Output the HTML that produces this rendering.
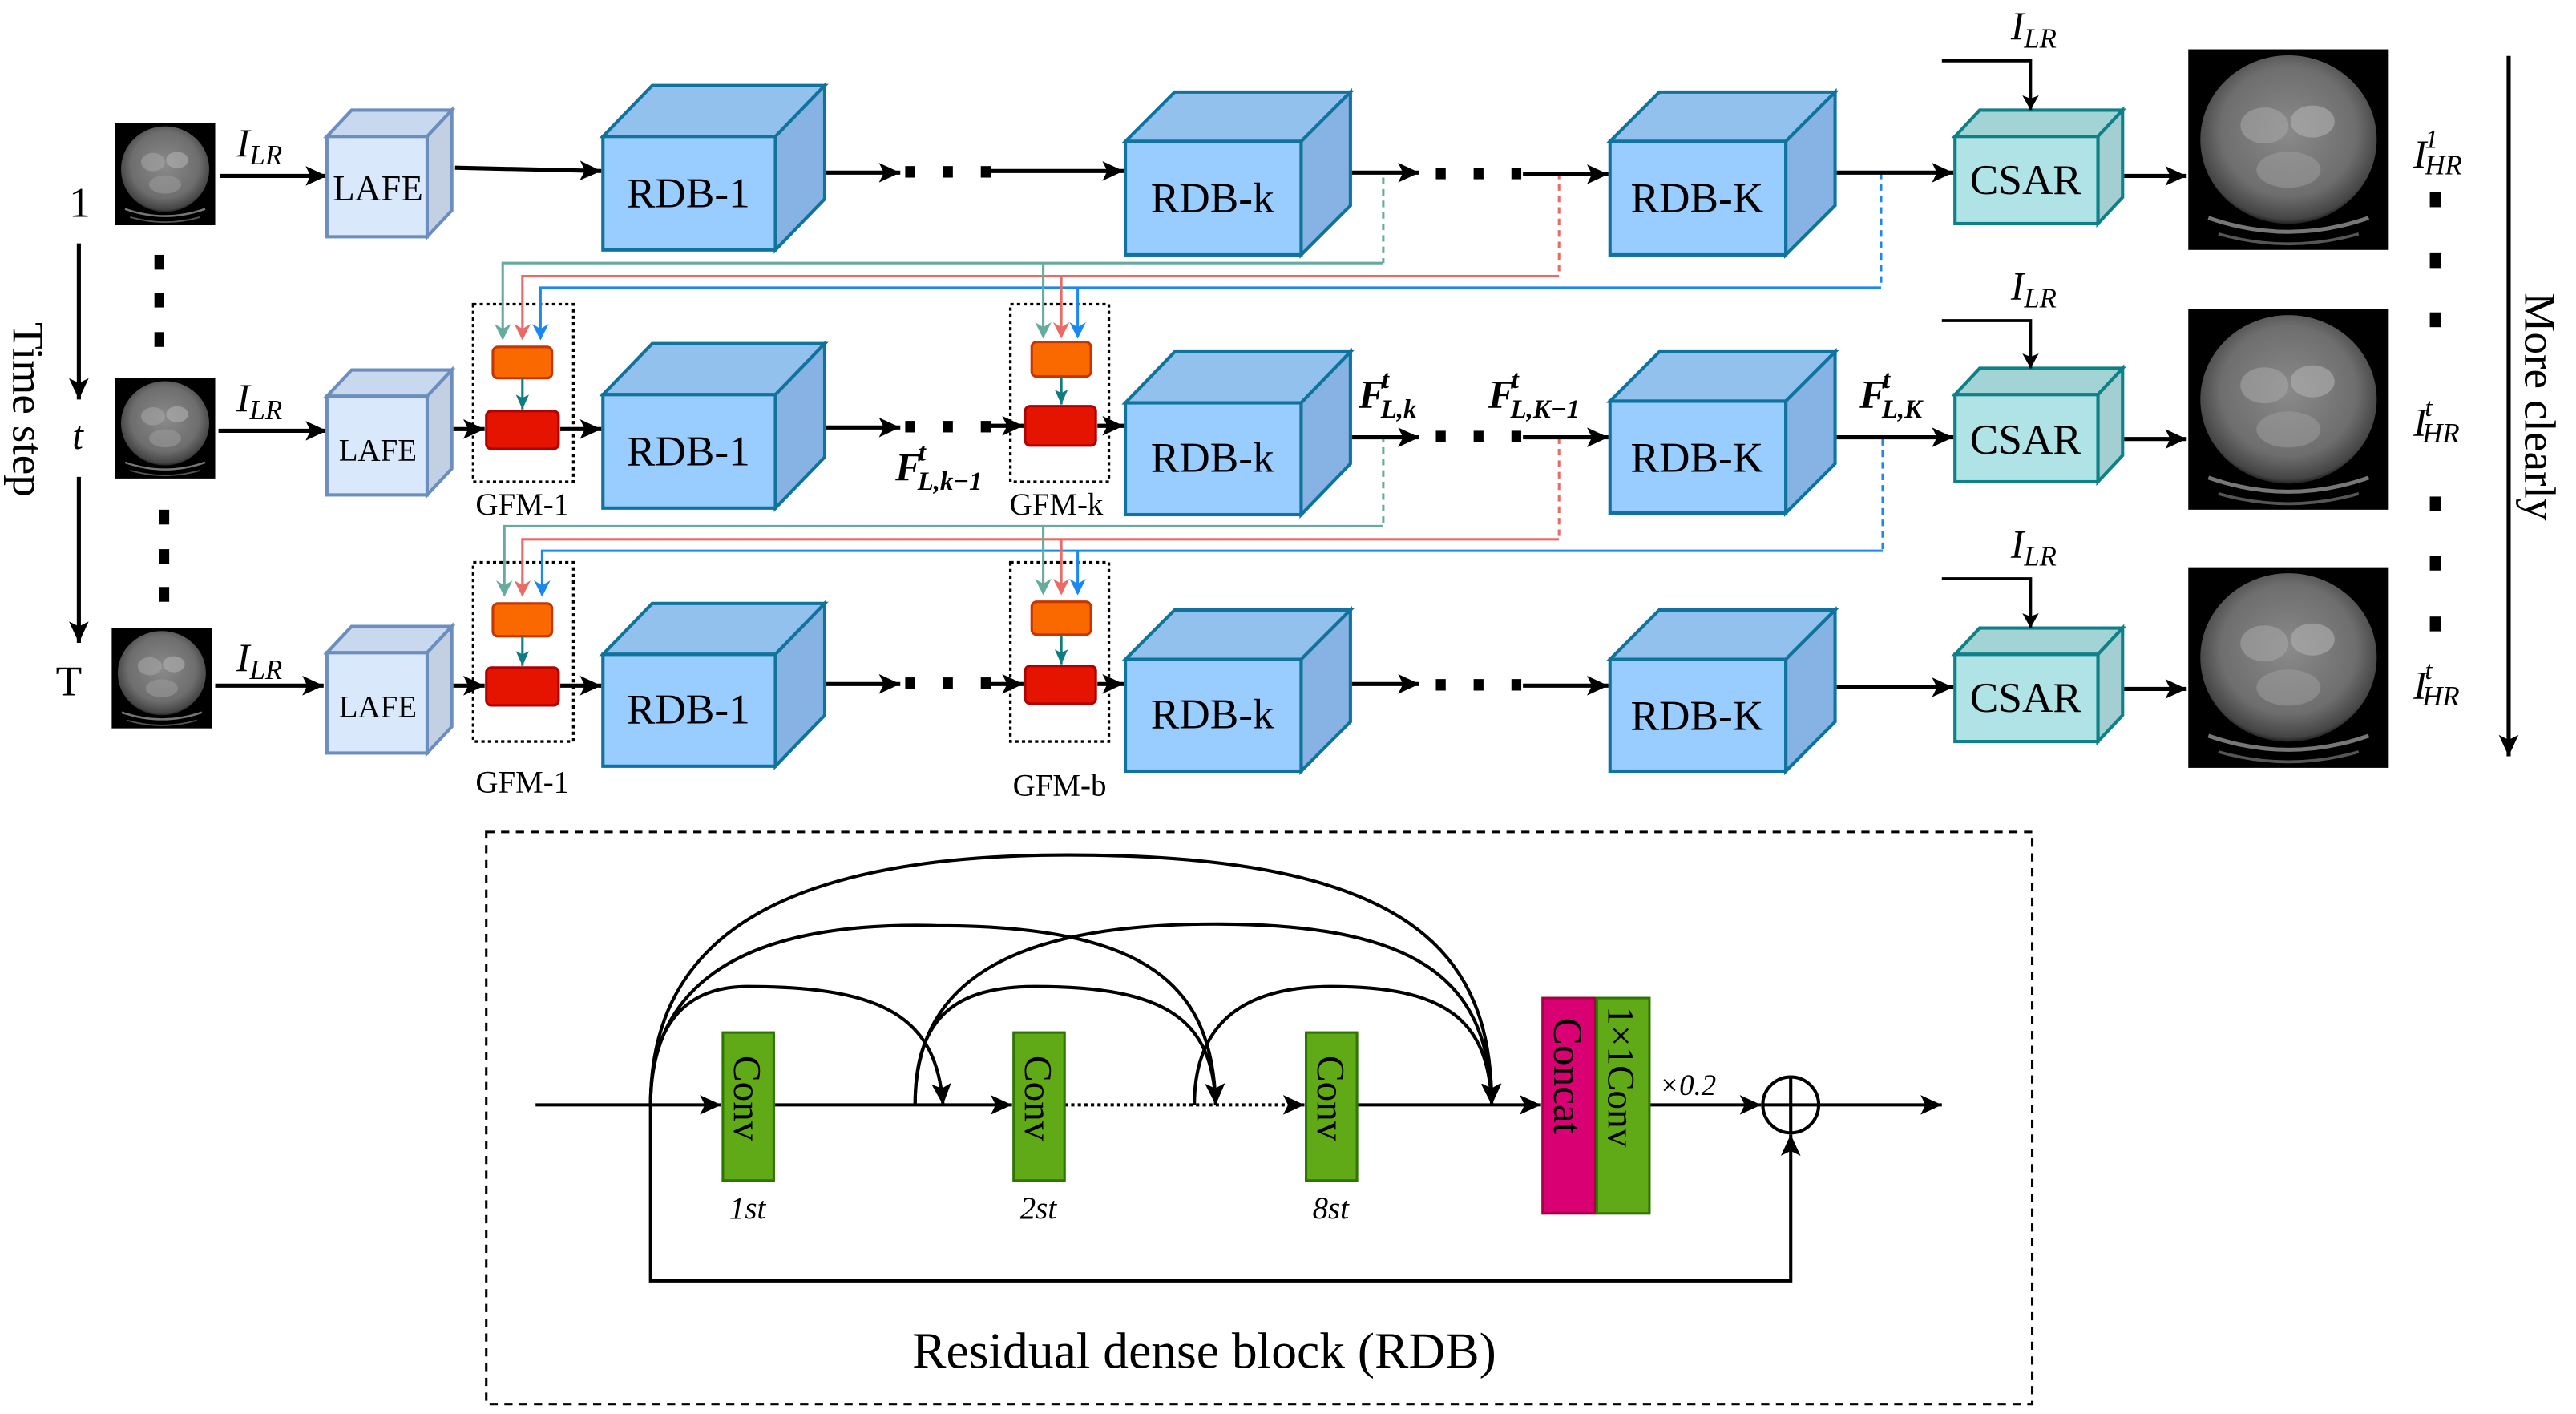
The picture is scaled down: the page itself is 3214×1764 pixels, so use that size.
<!DOCTYPE html>
<html><head><meta charset="utf-8"><style>
html,body{margin:0;padding:0;background:#fff;}
svg{display:block;}
svg text{font-family:"Liberation Serif","DejaVu Serif",serif;}
</style></head><body>
<svg width="3214" height="1764" viewBox="0 0 1568 860" preserveAspectRatio="none" xmlns="http://www.w3.org/2000/svg" font-family="Liberation Serif, DejaVu Serif, serif">
<defs>
<marker id="a" markerUnits="userSpaceOnUse" markerWidth="14" markerHeight="12" refX="13" refY="6" orient="auto"><path d="M0,0 L13,6 L0,12 L3,6 z" fill="#000"/></marker>
<marker id="as" markerUnits="userSpaceOnUse" markerWidth="10" markerHeight="10" refX="9" refY="5" orient="auto"><path d="M0,0 L9,5 L0,10 L2,5 z" fill="#000"/></marker>
<marker id="mt" markerUnits="userSpaceOnUse" markerWidth="10" markerHeight="14" refX="9" refY="5" orient="auto"><path d="M0,0 L10,5 L0,10 L3,5 z" fill="#67ab9f"/></marker>
<marker id="mr" markerUnits="userSpaceOnUse" markerWidth="10" markerHeight="14" refX="9" refY="5" orient="auto"><path d="M0,0 L10,5 L0,10 L3,5 z" fill="#ea6b66"/></marker>
<marker id="mb" markerUnits="userSpaceOnUse" markerWidth="10" markerHeight="14" refX="9" refY="5" orient="auto"><path d="M0,0 L10,5 L0,10 L3,5 z" fill="#1a88f0"/></marker>
<marker id="mg" markerUnits="userSpaceOnUse" markerWidth="10" markerHeight="10" refX="9" refY="4" orient="auto"><path d="M0,0 L9,4 L0,8 L2,4 z" fill="#0e7c80"/></marker>
<radialGradient id="ct" cx="0.5" cy="0.45" r="0.55"><stop offset="0" stop-color="#8a8a8a"/><stop offset="0.7" stop-color="#6e6e6e"/><stop offset="0.95" stop-color="#444"/><stop offset="1" stop-color="#222"/></radialGradient>
<g id="ctimg">
<rect x="0" y="0" width="100" height="100" fill="#000"/>
<ellipse cx="50" cy="45" rx="44" ry="42" fill="url(#ct)"/>
<ellipse cx="38" cy="38" rx="12" ry="9" fill="#a5a5a5" opacity="0.6"/>
<ellipse cx="62" cy="36" rx="11" ry="8" fill="#b0b0b0" opacity="0.6"/>
<ellipse cx="50" cy="60" rx="16" ry="9" fill="#9a9a9a" opacity="0.6"/>
<path d="M10,84 Q50,98 90,84" stroke="#777" stroke-width="2" fill="none"/>
<path d="M15,92 Q50,102 85,92" stroke="#555" stroke-width="1.5" fill="none"/>
</g>
</defs>

<!-- Left time axis -->
<text x="42" y="132" font-size="26">1</text>
<text x="44" y="273" font-size="24" font-style="italic">t</text>
<text x="34" y="423" font-size="26">T</text>
<line x1="48" y1="148" x2="48" y2="243" stroke="#000" stroke-width="2.5" marker-end="url(#a)"/>
<line x1="48" y1="290" x2="48" y2="391" stroke="#000" stroke-width="2.5" marker-end="url(#a)"/>
<text transform="translate(8,196) rotate(90)" font-size="27">Time  step</text>
<g fill="#000">
<rect x="94" y="155" width="6" height="9"/><rect x="94" y="178" width="6" height="9"/><rect x="94" y="202" width="6" height="9"/>
<rect x="97" y="310" width="6" height="9"/><rect x="97" y="334" width="6" height="9"/><rect x="97" y="357" width="6" height="9"/>
</g>

<!-- CT inputs -->
<use href="#ctimg" transform="translate(70,75) scale(0.61,0.62)"/>
<use href="#ctimg" transform="translate(70,230) scale(0.61,0.61)"/>
<use href="#ctimg" transform="translate(68,382) scale(0.61,0.61)"/>
<!-- CT outputs -->
<use href="#ctimg" transform="translate(1332,30) scale(1.22,1.22)"/>
<use href="#ctimg" transform="translate(1332,188) scale(1.22,1.22)"/>
<use href="#ctimg" transform="translate(1332,345) scale(1.22,1.22)"/>

<!-- I_LR left -->
<g font-size="24" font-style="italic">
<text x="144" y="95">I<tspan font-size="17" dy="5">LR</tspan></text>
<text x="144" y="250">I<tspan font-size="17" dy="5">LR</tspan></text>
<text x="144" y="408">I<tspan font-size="17" dy="5">LR</tspan></text>
</g>
<g stroke="#000" stroke-width="2.5" fill="none" marker-end="url(#a)">
<line x1="134" y1="107" x2="199" y2="107"/>
<line x1="133" y1="262" x2="199" y2="262"/>
<line x1="131" y1="417" x2="197" y2="417"/>
</g>

<!-- LAFE cubes -->
<g stroke="#6c8ebf" stroke-width="2">
<polygon points="199,83 214,67 275,67 260,83" fill="#c8d8ee"/><polygon points="260,83 275,67 275,128 260,144" fill="#c3cfe3"/><rect x="199" y="83" width="61" height="61" fill="#dae8fc"/>
<polygon points="199,241 214,225 275,225 260,241" fill="#c8d8ee"/><polygon points="260,241 275,225 275,285 260,301" fill="#c3cfe3"/><rect x="199" y="241" width="61" height="60" fill="#dae8fc"/>
<polygon points="199,397 214,381 275,381 260,397" fill="#c8d8ee"/><polygon points="260,397 275,381 275,442 260,458" fill="#c3cfe3"/><rect x="199" y="397" width="61" height="61" fill="#dae8fc"/>
</g>
<text x="230" y="122" font-size="22" text-anchor="middle">LAFE</text>
<text x="230" y="280" font-size="19" text-anchor="middle">LAFE</text>
<text x="230" y="436" font-size="19" text-anchor="middle">LAFE</text>

<!-- RDB cubes -->
<g stroke="#10739e" stroke-width="2">
<polygon points="367,83 397,52 502,52 472,83" fill="#92c1ee"/><polygon points="472,83 502,52 502,121 472,152" fill="#86b3e3"/><rect x="367" y="83" width="105" height="69" fill="#99ccff"/>
<polygon points="367,240 397,209 502,209 472,240" fill="#92c1ee"/><polygon points="472,240 502,209 502,278 472,309" fill="#86b3e3"/><rect x="367" y="240" width="105" height="69" fill="#99ccff"/>
<polygon points="367,398 397,367 502,367 472,398" fill="#92c1ee"/><polygon points="472,398 502,367 502,435 472,466" fill="#86b3e3"/><rect x="367" y="398" width="105" height="68" fill="#99ccff"/>
<polygon points="685,86 715,56 822,56 792,86" fill="#92c1ee"/><polygon points="792,86 822,56 822,125 792,155" fill="#86b3e3"/><rect x="685" y="86" width="107" height="69" fill="#99ccff"/>
<polygon points="685,245 715,214 822,214 792,245" fill="#92c1ee"/><polygon points="792,245 822,214 822,282 792,313" fill="#86b3e3"/><rect x="685" y="245" width="107" height="68" fill="#99ccff"/>
<polygon points="685,401 715,371 822,371 792,401" fill="#92c1ee"/><polygon points="792,401 822,371 822,439 792,469" fill="#86b3e3"/><rect x="685" y="401" width="107" height="68" fill="#99ccff"/>
<polygon points="980,86 1010,56 1117,56 1087,86" fill="#92c1ee"/><polygon points="1087,86 1117,56 1117,125 1087,155" fill="#86b3e3"/><rect x="980" y="86" width="107" height="69" fill="#99ccff"/>
<polygon points="980,244 1010,214 1117,214 1087,244" fill="#92c1ee"/><polygon points="1087,244 1117,214 1117,282 1087,312" fill="#86b3e3"/><rect x="980" y="244" width="107" height="68" fill="#99ccff"/>
<polygon points="980,401 1010,371 1117,371 1087,401" fill="#92c1ee"/><polygon points="1087,401 1117,371 1117,439 1087,469" fill="#86b3e3"/><rect x="980" y="401" width="107" height="68" fill="#99ccff"/>
</g>
<g font-size="26" text-anchor="middle">
<text x="419" y="126">RDB-1</text><text x="419" y="283">RDB-1</text><text x="419" y="440">RDB-1</text>
<text x="738" y="129">RDB-k</text><text x="738" y="287">RDB-k</text><text x="738" y="443">RDB-k</text>
<text x="1033" y="129">RDB-K</text><text x="1033" y="287">RDB-K</text><text x="1033" y="444">RDB-K</text>
</g>

<!-- CSAR -->
<g stroke="#0e8088" stroke-width="2">
<polygon points="1190,83 1205,67 1292,67 1277,83" fill="#a2d4d6"/><polygon points="1277,83 1292,67 1292,120 1277,136" fill="#a3cfd2"/><rect x="1190" y="83" width="87" height="53" fill="#b0e3e6"/>
<polygon points="1190,240 1205,224 1292,224 1277,240" fill="#a2d4d6"/><polygon points="1277,240 1292,224 1292,277 1277,293" fill="#a3cfd2"/><rect x="1190" y="240" width="87" height="53" fill="#b0e3e6"/>
<polygon points="1190,398 1205,382 1292,382 1277,398" fill="#a2d4d6"/><polygon points="1277,398 1292,382 1292,435 1277,451" fill="#a3cfd2"/><rect x="1190" y="398" width="87" height="53" fill="#b0e3e6"/>
</g>
<g font-size="26" text-anchor="middle">
<text x="1233" y="118">CSAR</text><text x="1233" y="276">CSAR</text><text x="1233" y="433">CSAR</text>
</g>
<g font-size="24" font-style="italic">
<text x="1224" y="24">I<tspan font-size="17" dy="5">LR</tspan></text>
<text x="1224" y="182">I<tspan font-size="17" dy="5">LR</tspan></text>
<text x="1224" y="339">I<tspan font-size="17" dy="5">LR</tspan></text>
</g>
<g stroke="#000" stroke-width="1.8" fill="none" marker-end="url(#as)">
<polyline points="1182,37 1236,37 1236,67"/>
<polyline points="1182,195 1236,195 1236,224"/>
<polyline points="1182,352 1236,352 1236,382"/>
</g>

<!-- GFM boxes -->
<g fill="none" stroke="#000" stroke-width="1.6" stroke-dasharray="2,2">
<rect x="288" y="185" width="61" height="108"/>
<rect x="615" y="185" width="60" height="108"/>
<rect x="288" y="342" width="61" height="109"/>
<rect x="615" y="342" width="60" height="109"/>
</g>
<g stroke-width="1.5">
<rect x="300" y="211" width="36" height="19" rx="3" fill="#fa6800" stroke="#c73500"/>
<rect x="296" y="250" width="44" height="23" rx="3" fill="#e51400" stroke="#b20000"/>
<rect x="628" y="208" width="36" height="21" rx="3" fill="#fa6800" stroke="#c73500"/>
<rect x="624" y="247" width="43" height="24" rx="3" fill="#e51400" stroke="#b20000"/>
<rect x="300" y="367" width="36" height="20" rx="3" fill="#fa6800" stroke="#c73500"/>
<rect x="296" y="406" width="44" height="23" rx="3" fill="#e51400" stroke="#b20000"/>
<rect x="628" y="366" width="36" height="20" rx="3" fill="#fa6800" stroke="#c73500"/>
<rect x="624" y="405" width="43" height="23" rx="3" fill="#e51400" stroke="#b20000"/>
</g>
<g stroke="#0e7c80" stroke-width="1.5" marker-end="url(#mg)">
<line x1="318" y1="230" x2="318" y2="249"/>
<line x1="646" y1="229" x2="646" y2="246"/>
<line x1="318" y1="387" x2="318" y2="405"/>
<line x1="646" y1="386" x2="646" y2="404"/>
</g>
<g font-size="19" text-anchor="middle">
<text x="318" y="313">GFM-1</text><text x="643" y="313">GFM-k</text>
<text x="318" y="482">GFM-1</text><text x="645" y="484">GFM-b</text>
</g>

<!-- colored feedback lines -->
<g fill="none" stroke-width="1.5">
<polyline points="842,108 842,160" stroke="#67ab9f" stroke-dasharray="4,3"/>
<polyline points="949,105 949,168" stroke="#ea6b66" stroke-dasharray="4,3"/>
<polyline points="1145,105 1145,175" stroke="#1a88f0" stroke-dasharray="4,3"/>
<polyline points="842,160 306,160 306,206" stroke="#67ab9f" marker-end="url(#mt)"/>
<polyline points="949,168 318,168 318,206" stroke="#ea6b66" marker-end="url(#mr)"/>
<polyline points="1145,175 329,175 329,206" stroke="#1a88f0" marker-end="url(#mb)"/>
<line x1="635" y1="160" x2="635" y2="205" stroke="#67ab9f" marker-end="url(#mt)"/>
<line x1="646" y1="168" x2="646" y2="205" stroke="#ea6b66" marker-end="url(#mr)"/>
<line x1="656" y1="175" x2="656" y2="205" stroke="#1a88f0" marker-end="url(#mb)"/>

<polyline points="842,265 842,320" stroke="#67ab9f" stroke-dasharray="4,3"/>
<polyline points="949,266 949,328" stroke="#ea6b66" stroke-dasharray="4,3"/>
<polyline points="1146,267 1146,335" stroke="#1a88f0" stroke-dasharray="4,3"/>
<polyline points="842,320 307,320 307,362" stroke="#67ab9f" marker-end="url(#mt)"/>
<polyline points="949,328 318,328 318,362" stroke="#ea6b66" marker-end="url(#mr)"/>
<polyline points="1146,335 330,335 330,362" stroke="#1a88f0" marker-end="url(#mb)"/>
<line x1="635" y1="320" x2="635" y2="361" stroke="#67ab9f" marker-end="url(#mt)"/>
<line x1="646" y1="328" x2="646" y2="361" stroke="#ea6b66" marker-end="url(#mr)"/>
<line x1="656" y1="335" x2="656" y2="361" stroke="#1a88f0" marker-end="url(#mb)"/>
</g>

<!-- main arrows -->
<g stroke="#000" stroke-width="2.5" fill="none" marker-end="url(#a)">
<line x1="277" y1="102" x2="366" y2="104"/>
<line x1="503" y1="105" x2="548" y2="105"/>
<line x1="603" y1="104" x2="684" y2="104"/>
<line x1="823" y1="105" x2="864" y2="105"/>
<line x1="927" y1="106" x2="979" y2="106"/>
<line x1="1118" y1="105" x2="1189" y2="105"/>
<line x1="1293" y1="107" x2="1331" y2="107"/>

<line x1="276" y1="261" x2="295" y2="261"/>
<line x1="341" y1="261" x2="366" y2="261"/>
<line x1="503" y1="260" x2="548" y2="260"/>
<line x1="603" y1="259" x2="623" y2="259"/>
<line x1="668" y1="259" x2="684" y2="259"/>
<line x1="823" y1="266" x2="864" y2="266"/>
<line x1="927" y1="266" x2="979" y2="266"/>
<line x1="1118" y1="266" x2="1189" y2="266"/>
<line x1="1293" y1="267" x2="1331" y2="267"/>

<line x1="276" y1="417" x2="295" y2="417"/>
<line x1="341" y1="417" x2="366" y2="417"/>
<line x1="503" y1="416" x2="548" y2="416"/>
<line x1="603" y1="416" x2="623" y2="416"/>
<line x1="668" y1="416" x2="684" y2="416"/>
<line x1="823" y1="416" x2="864" y2="416"/>
<line x1="927" y1="417" x2="979" y2="417"/>
<line x1="1118" y1="418" x2="1189" y2="418"/>
<line x1="1293" y1="419" x2="1331" y2="419"/>
</g>
<g fill="#000">
<rect x="551" y="101" width="6" height="7"/><rect x="574" y="101" width="6" height="7"/><rect x="597" y="101" width="6" height="7"/>
<rect x="874" y="102" width="6" height="7"/><rect x="897" y="102" width="6" height="7"/><rect x="920" y="102" width="6" height="7"/>
<rect x="551" y="256" width="6" height="7"/><rect x="574" y="256" width="6" height="7"/><rect x="597" y="256" width="6" height="7"/>
<rect x="874" y="262" width="6" height="7"/><rect x="897" y="262" width="6" height="7"/><rect x="920" y="262" width="6" height="7"/>
<rect x="551" y="412" width="6" height="7"/><rect x="574" y="412" width="6" height="7"/><rect x="597" y="412" width="6" height="7"/>
<rect x="874" y="413" width="6" height="7"/><rect x="897" y="413" width="6" height="7"/><rect x="920" y="413" width="6" height="7"/>
</g>

<!-- F labels -->
<g font-size="24" font-style="italic" font-weight="bold">
<text x="545" y="292">F<tspan font-size="16" dy="-12" dx="-2">t</tspan><tspan font-size="16" dy="18" dx="-5">L,k−1</tspan></text>
<text x="827" y="248">F<tspan font-size="16" dy="-12" dx="-2">t</tspan><tspan font-size="16" dy="18" dx="-5">L,k</tspan></text>
<text x="906" y="248">F<tspan font-size="16" dy="-12" dx="-2">t</tspan><tspan font-size="16" dy="18" dx="-5">L,K−1</tspan></text>
<text x="1132" y="248">F<tspan font-size="16" dy="-12" dx="-2">t</tspan><tspan font-size="16" dy="18" dx="-5">L,K</tspan></text>
</g>

<!-- I_HR labels -->
<g font-size="24" font-style="italic">
<text x="1469" y="102">I<tspan font-size="16" dy="-12" dx="-1">1</tspan><tspan font-size="17" dy="16" dx="-8">HR</tspan></text>
<text x="1469" y="265">I<tspan font-size="16" dy="-12" dx="-1">t</tspan><tspan font-size="17" dy="16" dx="-6">HR</tspan></text>
<text x="1469" y="425">I<tspan font-size="16" dy="-12" dx="-1">t</tspan><tspan font-size="17" dy="16" dx="-6">HR</tspan></text>
</g>
<g fill="#000">
<rect x="1479" y="117" width="7" height="9"/><rect x="1479" y="154" width="7" height="9"/><rect x="1479" y="190" width="7" height="9"/>
<rect x="1479" y="302" width="7" height="9"/><rect x="1479" y="338" width="7" height="9"/><rect x="1479" y="375" width="7" height="9"/>
</g>
<line x1="1527" y1="34" x2="1527" y2="460" stroke="#000" stroke-width="2.5" marker-end="url(#a)"/>
<text transform="translate(1537,178) rotate(90)" font-size="27">More clearly</text>

<!-- RDB detail panel -->
<rect x="296" y="506" width="941" height="348" fill="none" stroke="#000" stroke-width="1.5" stroke-dasharray="5,4"/>
<g stroke="#000" stroke-width="2" fill="none">
<line x1="326" y1="672" x2="439" y2="672" marker-end="url(#a)"/>
<line x1="471" y1="672" x2="616" y2="672" marker-end="url(#a)"/>
<line x1="648" y1="672" x2="794" y2="672" stroke-dasharray="2,2" marker-end="url(#a)"/>
<line x1="826" y1="672" x2="938" y2="672" marker-end="url(#a)"/>
<line x1="1004" y1="672" x2="1072" y2="672" marker-end="url(#a)"/>
<line x1="1107" y1="672" x2="1182" y2="672" marker-end="url(#a)"/>
<polyline points="396,672 396,779 1090,779 1090,690" marker-end="url(#a)"/>
<path d="M396,672 C396,620 420,600 455,600 C540,600 570,620 574,672" marker-end="url(#a)"/>
<path d="M396,672 C396,600 450,560 570,563 C700,563 738,600 740,672" marker-end="url(#a)"/>
<path d="M396,672 C396,580 460,520 650,520 C860,520 908,580 908,672" marker-end="url(#a)"/>
<path d="M557,672 C557,620 580,600 630,600 C710,600 738,620 740,672" marker-end="url(#a)"/>
<path d="M557,672 C557,600 610,562 740,562 C870,562 906,600 908,672" marker-end="url(#a)"/>
<path d="M727,672 C727,620 760,600 810,600 C880,600 906,620 908,672" marker-end="url(#a)"/>
</g>
<circle cx="1090" cy="672" r="17" fill="none" stroke="#000" stroke-width="2"/>
<line x1="1090" y1="655" x2="1090" y2="689" stroke="#000" stroke-width="2"/>
<line x1="1073" y1="672" x2="1107" y2="672" stroke="#000" stroke-width="2"/>
<g stroke-width="1.5">
<rect x="440" y="628" width="31" height="90" fill="#60a917" stroke="#2d7600"/>
<rect x="617" y="628" width="31" height="90" fill="#60a917" stroke="#2d7600"/>
<rect x="795" y="628" width="31" height="90" fill="#60a917" stroke="#2d7600"/>
<rect x="939" y="607" width="32" height="131" fill="#d80073" stroke="#a50040"/>
<rect x="972" y="607" width="32" height="131" fill="#60a917" stroke="#2d7600"/>
</g>
<g font-size="24">
<text transform="translate(447,642) rotate(90)">Conv</text>
<text transform="translate(624,642) rotate(90)">Conv</text>
<text transform="translate(802,642) rotate(90)">Conv</text>
<text transform="translate(946,619) rotate(90)" font-size="25">Concat</text>
<text transform="translate(979,612) rotate(90)" font-size="23">1×1Conv</text>
</g>
<g font-size="19" font-style="italic" text-anchor="middle">
<text x="455" y="741">1st</text><text x="632" y="741">2st</text><text x="810" y="741">8st</text>
</g>
<text x="1010" y="666" font-size="18" font-style="italic">×0.2</text>
<text x="733" y="832" font-size="31" text-anchor="middle">Residual dense block (RDB)</text>
</svg>
</body></html>
